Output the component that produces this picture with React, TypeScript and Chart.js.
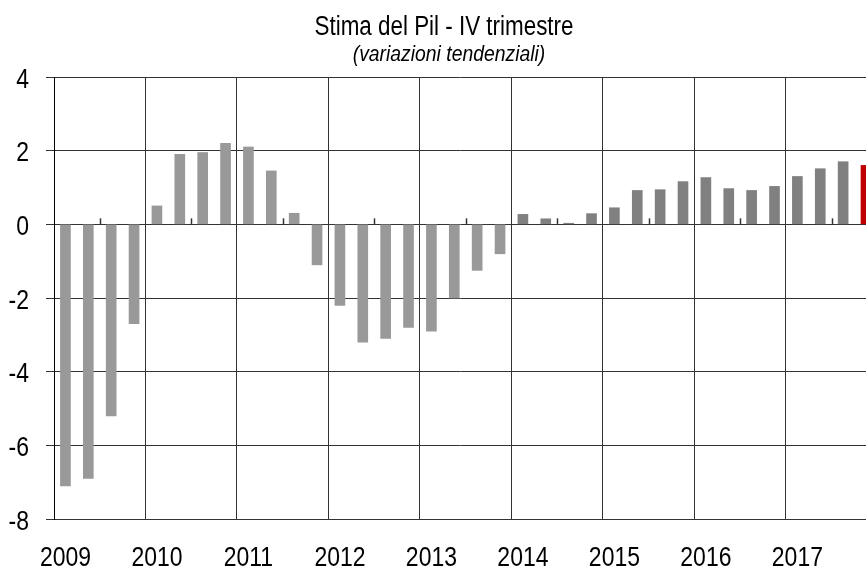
import React, { useEffect, useRef } from "react";
import { Chart, registerables } from "chart.js";

Chart.register(...registerables);

const TITLE = "Stima del Pil - IV trimestre";
const SUBTITLE = "(variazioni tendenziali)";

const START_YEAR = 2009;
const YEAR_TICKS = [2009, 2010, 2011, 2012, 2013, 2014, 2015, 2016, 2017];
const YEAR_LABELS = ["2009", "2010", "2011", "2012", "2013", "2014", "2015", "2016", "2017"];
const Y_TICKS = [4, 2, 0, -2, -4, -6, -8];
const Y_LABELS = ["4", "2", "0", "-2", "-4", "-6", "-8"];

// Quarterly GDP year-on-year change, 2009 Q1 .. 2017 Q4
const GDP_VALUES = [
  -7.1, -6.9, -5.2, -2.7,
  0.5, 1.9, 1.95, 2.2,
  2.1, 1.45, 0.3, -1.1,
  -2.2, -3.2, -3.1, -2.8,
  -2.9, -2.0, -1.25, -0.8,
  0.27, 0.15, 0.03, 0.29,
  0.45, 0.92, 0.94, 1.16,
  1.27, 0.97, 0.92, 1.03,
  1.3, 1.51, 1.7, 1.6,
];

const Y_MIN = -8;
const Y_MAX = 4;

const FONT = '"Liberation Sans", Arial, sans-serif';
const LIGHT = "#999999";
const DARK = "#808080";
const RED = "#c00000";
const GRID = "#333333";

function narrowText(
  ctx: CanvasRenderingContext2D,
  text: string,
  x: number,
  y: number,
  size: number,
  sx: number,
  align: CanvasTextAlign,
  italic = false
) {
  ctx.save();
  ctx.translate(x, y);
  ctx.scale(sx, 1);
  ctx.font = `${italic ? "italic " : ""}${size}px ${FONT}`;
  ctx.textAlign = align;
  ctx.textBaseline = "alphabetic";
  ctx.fillStyle = "#000";
  ctx.fillText(text, 0, 0);
  ctx.restore();
}

export default function App() {
  const ref = useRef<HTMLCanvasElement | null>(null);

  useEffect(() => {
    if (!ref.current) return;
    const points = GDP_VALUES.map((v, i) => ({ x: START_YEAR + (i + 0.5) / 4, y: v }));
    const colors = GDP_VALUES.map((_, i) =>
      i === GDP_VALUES.length - 1 ? RED : i >= 20 ? DARK : LIGHT
    );

    const textPlugin = {
      id: "texts",
      afterDraw(chart: any) {
        const ctx = chart.ctx as CanvasRenderingContext2D;
        const xs = chart.scales.x;
        const ys = chart.scales.y;
        narrowText(ctx, TITLE, 444, 35, 27, 0.83, "center");
        narrowText(ctx, SUBTITLE, 449, 61, 22, 0.88, "center", true);
        YEAR_TICKS.forEach((yr, i) => {
          const x = xs.getPixelForValue(yr + 0.125);
          narrowText(ctx, YEAR_LABELS[i], x, 566, 28, 0.82, "center");
        });
        Y_TICKS.forEach((v, i) => {
          const y = ys.getPixelForValue(v);
          narrowText(ctx, Y_LABELS[i], 29, y + 10.5, 28, 0.82, "right");
        });
      },
    };

    const midTicks = {
      id: "midTicks",
      afterDatasetsDraw(chart: any) {
        const xs = chart.scales.x;
        const ys = chart.scales.y;
        const ctx = chart.ctx;
        const y0 = ys.getPixelForValue(0);
        ctx.save();
        ctx.strokeStyle = GRID;
        ctx.lineWidth = 1.5;
        YEAR_TICKS.forEach((yr) => {
          const x = Math.round(xs.getPixelForValue(yr + 0.5)) + 0.5;
          ctx.beginPath();
          ctx.moveTo(x, y0 - 6);
          ctx.lineTo(x, y0);
          ctx.stroke();
        });
        ctx.restore();
      },
    };

    const lastVisible = START_YEAR + 8.875;

    const chart = new Chart(ref.current, {
      type: "bar",
      data: {
        datasets: [
          {
            data: points as any,
            backgroundColor: colors,
            borderWidth: 0,
            barThickness: 10,
          },
        ],
      },
      options: {
        animation: false,
        responsive: false,
        devicePixelRatio: 1,
        layout: { padding: { top: 77, left: 0, right: 0, bottom: 0 } },
        plugins: {
          legend: { display: false },
          tooltip: { enabled: false },
          title: { display: false },
        },
        scales: {
          x: {
            type: "linear",
            min: START_YEAR,
            max: lastVisible,
            offset: false,
            afterBuildTicks: (scale: any) => {
              scale.ticks = YEAR_TICKS.map((v) => ({ value: v }));
            },
            afterFit: (scale: any) => {
              scale.height = 48;
            },
            grid: {
              color: GRID,
              lineWidth: 1,
              drawTicks: false,
              offset: false,
            },
            border: { display: true, color: GRID, width: 1 },
            ticks: { display: false },
          },
          y: {
            min: Y_MIN,
            max: Y_MAX,
            afterBuildTicks: (scale: any) => {
              scale.ticks = Y_TICKS.map((v) => ({ value: v }));
            },
            afterFit: (scale: any) => {
              scale.width = 54;
            },
            grid: {
              color: GRID,
              lineWidth: 1,
              drawTicks: true,
              tickLength: 8,
            },
            border: { display: true, color: "#000", width: 1 },
            ticks: { display: false },
          },
        },
      },
      plugins: [textPlugin, midTicks],
    });

    return () => chart.destroy();
  }, []);

  return (
    <div
      style={{
        position: "fixed",
        left: 0,
        top: 0,
        width: 866,
        height: 567,
        overflow: "hidden",
        background: "#fff",
      }}
    >
      <canvas ref={ref} width={866} height={567} style={{ display: "block" }} />
    </div>
  );
}
